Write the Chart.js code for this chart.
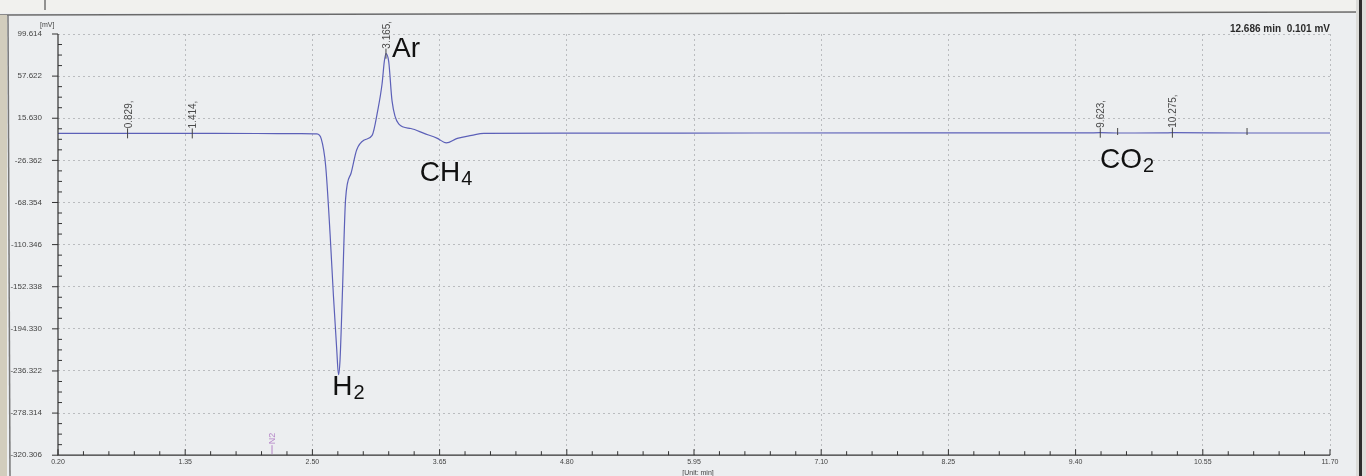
<!DOCTYPE html>
<html><head><meta charset="utf-8">
<script src="https://cdn.jsdelivr.net/npm/chart.js@4/dist/chart.umd.min.js"></script>
<style>html,body{margin:0;padding:0;background:#eceef0;overflow:hidden}canvas{display:block}</style>
</head><body>
<canvas id="c" width="1366" height="476"></canvas>
<script>
// ---- data ----
const times  = [0.20, 0.829, 1.414, 2.00, 2.40, 2.54, 2.58, 2.62, 2.66, 2.69, 2.72, 2.736, 2.75, 2.77, 2.80, 2.85, 2.90, 2.97, 3.04, 3.09, 3.13, 3.15, 3.165, 3.19, 3.22, 3.28, 3.39, 3.51, 3.63, 3.71, 3.81, 3.94, 4.05, 5.00, 6.50, 8.00, 9.50, 9.623, 9.78, 10.20, 10.275, 10.95, 11.70, 11.95];
const signal = [0.6, 0.6, 0.5, 0.4, 0.3, 0.0, -5, -32, -100, -161, -215, -240, -225, -163, -65, -39, -16, -6, -1.5, 23, 50, 72, 80, 72, 33, 10, 5.4, 0.5, -4.4, -9, -4.4, -1.5, 0.5, 0.8, 0.9, 1.0, 1.0, 1.2, 0.9, 1.0, 1.2, 0.9, 0.9, 0.9];
const yTickValues = [99.614, 57.622, 15.630, -26.362, -68.354, -110.346, -152.338, -194.330, -236.322, -278.314, -320.306];
const xTickValues = [0.20, 1.35, 2.50, 3.65, 4.80, 5.95, 7.10, 8.25, 9.40, 10.55, 11.70];
const peakTimes  = [0.829, 1.414, 3.165, 9.623, 10.275];
const peakLabels = ["0.829,", "1.414,", "3.165,", "9.623,", "10.275,"];
const extraMarkTimes = [9.78, 10.95];
const compoundNames  = ["Ar", "H", "CH", "CO"];
const compoundSubs   = ["", "2", "4", "2"];
const compoundTimes  = [3.22, 2.68, 3.47, 9.62];
const compoundValues = [77.0, -260.3, -46.9, -34.1];
const markerName = "N2";
const markerTime = 2.135;
const cursorText = "12.686 min  0.101 mV";
const yUnit = "[mV]";
const xUnit = "[Unit: min]";

const FONT = "'Liberation Sans', Arial, sans-serif";

function curveAt(t){
  for(let i=0;i<times.length-1;i++){
    if(t>=times[i] && t<=times[i+1]){
      const f=(t-times[i])/(times[i+1]-times[i]);
      return signal[i]+f*(signal[i+1]-signal[i]);
    }
  }
  return signal[signal.length-1];
}

const bgPlugin = {
  id:'bg',
  beforeDraw(chart){
    const c=chart.ctx, W=chart.width, H=chart.height;
    c.save();
    c.fillStyle='#eceef0'; c.fillRect(0,0,W,H);
    c.fillStyle='#f1f1ee'; c.fillRect(0,0,W,13);
    c.strokeStyle='#6a6a6a'; c.lineWidth=1.5;
    c.beginPath(); c.moveTo(0,15); c.lineTo(W,12); c.stroke();
    c.strokeStyle='#333'; c.lineWidth=1;
    c.beginPath(); c.moveTo(45,0); c.lineTo(45,10); c.stroke();
    c.fillStyle='#d2cdbd'; c.fillRect(0,15,7,H-15);
    c.strokeStyle='#777'; c.lineWidth=1.5;
    c.beginPath(); c.moveTo(8,15); c.lineTo(10,H); c.stroke();
    c.fillStyle='#dcdcd9'; c.fillRect(1356,0,10,H);
    c.fillStyle='#2d2d2d'; c.fillRect(1359,0,3,H);
    c.restore();
  }
};

const decoPlugin = {
  id:'deco',
  afterDatasetsDraw(chart){
    const c=chart.ctx, xs=chart.scales.x, ys=chart.scales.y, a=chart.chartArea;
    c.save();
    c.strokeStyle='#333'; c.lineWidth=1.2;
    c.beginPath(); c.moveTo(a.left,a.top); c.lineTo(a.left,a.bottom); c.lineTo(a.right,a.bottom); c.stroke();
    c.lineWidth=1;
    const ystep=(yTickValues[0]-yTickValues[1]);
    for(let i=0;i<yTickValues.length;i++){
      const y=ys.getPixelForValue(yTickValues[i]);
      c.beginPath(); c.moveTo(a.left-6,y); c.lineTo(a.left,y); c.stroke();
      if(i<yTickValues.length-1){
        for(let k=1;k<4;k++){
          const yy=ys.getPixelForValue(yTickValues[i]-k*ystep/4);
          c.beginPath(); c.moveTo(a.left,yy); c.lineTo(a.left+4,yy); c.stroke();
        }
      }
    }
    const xstep=xTickValues[1]-xTickValues[0];
    for(let i=0;i<xTickValues.length;i++){
      const x=xs.getPixelForValue(xTickValues[i]);
      c.beginPath(); c.moveTo(x,a.bottom); c.lineTo(x,a.bottom-6); c.stroke();
      if(i<xTickValues.length-1){
        for(let k=1;k<5;k++){
          const xx=xs.getPixelForValue(xTickValues[i]+k*xstep/5);
          c.beginPath(); c.moveTo(xx,a.bottom); c.lineTo(xx,a.bottom-4); c.stroke();
        }
      }
    }
    c.fillStyle='#444'; c.font='7px '+FONT; c.textAlign='left'; c.textBaseline='alphabetic';
    c.fillText(yUnit, 40, 27);
    c.textAlign='center';
    c.fillText(xUnit, xs.getPixelForValue(5.95)+4, 475);
    c.strokeStyle='#444'; c.fillStyle='#4a4a4a';
    for(let i=0;i<peakTimes.length;i++){
      const x=xs.getPixelForValue(peakTimes[i]);
      const y=ys.getPixelForValue(curveAt(peakTimes[i]));
      c.beginPath(); c.moveTo(x,y-5); c.lineTo(x,y+5); c.stroke();
      c.save();
      c.translate(x+4,y-5); c.rotate(-Math.PI/2);
      c.font='10px '+FONT; c.textAlign='left'; c.textBaseline='alphabetic';
      c.fillText(peakLabels[i],0,0);
      c.restore();
    }
    for(const t of extraMarkTimes){
      const x=xs.getPixelForValue(t), y=ys.getPixelForValue(curveAt(t));
      c.beginPath(); c.moveTo(x,y-5); c.lineTo(x,y+2); c.stroke();
    }
    c.fillStyle='#111'; c.textAlign='left'; c.textBaseline='alphabetic';
    for(let i=0;i<compoundNames.length;i++){
      const x=xs.getPixelForValue(compoundTimes[i]);
      const y=ys.getPixelForValue(compoundValues[i]);
      c.font='28px '+FONT;
      c.fillText(compoundNames[i],x,y);
      if(compoundSubs[i]){
        const w=c.measureText(compoundNames[i]).width;
        c.font='20px '+FONT;
        c.fillText(compoundSubs[i],x+w+1,y+4);
      }
    }
    const mx=xs.getPixelForValue(markerTime);
    c.strokeStyle='#b585c8'; c.fillStyle='#b585c8';
    c.beginPath(); c.moveTo(mx,a.bottom-1); c.lineTo(mx,a.bottom-10); c.stroke();
    c.save(); c.translate(mx+3,a.bottom-11); c.rotate(-Math.PI/2);
    c.font='9px '+FONT; c.textAlign='left'; c.fillText(markerName,0,0); c.restore();
    c.fillStyle='#2a2a2a'; c.font='bold 10px '+FONT; c.textAlign='right';
    c.fillText(cursorText, 1330, 32);
    c.restore();
  }
};

new Chart(document.getElementById('c'), {
  type:'scatter',
  data:{datasets:[{
    data: times.map((t,i)=>({x:t,y:signal[i]})),
    showLine:true, borderColor:'#5c60b8', borderWidth:1.2, pointRadius:0,
    cubicInterpolationMode:'monotone', clip:false
  }]},
  options:{
    animation:false, responsive:false, maintainAspectRatio:false,
    layout:{padding:{left:0,right:36,top:34,bottom:0}},
    plugins:{legend:{display:false}, tooltip:{enabled:false}},
    scales:{
      x:{
        type:'linear', min:0.20, max:11.70,
        afterBuildTicks:s=>{s.ticks=xTickValues.map(v=>({value:v}));},
        afterFit:s=>{s.height=15;},
        grid:{color:c=>(c.tick && Math.abs(c.tick.value-0.2)<1e-6)?'rgba(0,0,0,0)':'#babcbf', drawTicks:false, lineWidth:1},
        border:{display:false, dash:[2,3]},
        ticks:{font:{size:7,family:FONT}, color:'#444', padding:3, maxRotation:0, autoSkip:false, callback:v=>Number(v).toFixed(2)}
      },
      y:{
        min:-320.306, max:99.614,
        afterBuildTicks:s=>{s.ticks=yTickValues.map(v=>({value:v}));},
        afterFit:s=>{s.width=58;},
        grid:{color:c=>(c.tick && Math.abs(c.tick.value+320.306)<1e-6)?'rgba(0,0,0,0)':'#babcbf', drawTicks:false, lineWidth:1},
        border:{display:false, dash:[2,3]},
        ticks:{font:{size:8,family:FONT}, color:'#444', padding:16, autoSkip:false, callback:v=>Number(v).toFixed(3)}
      }
    }
  },
  plugins:[bgPlugin, decoPlugin]
});
</script>
</body></html>
